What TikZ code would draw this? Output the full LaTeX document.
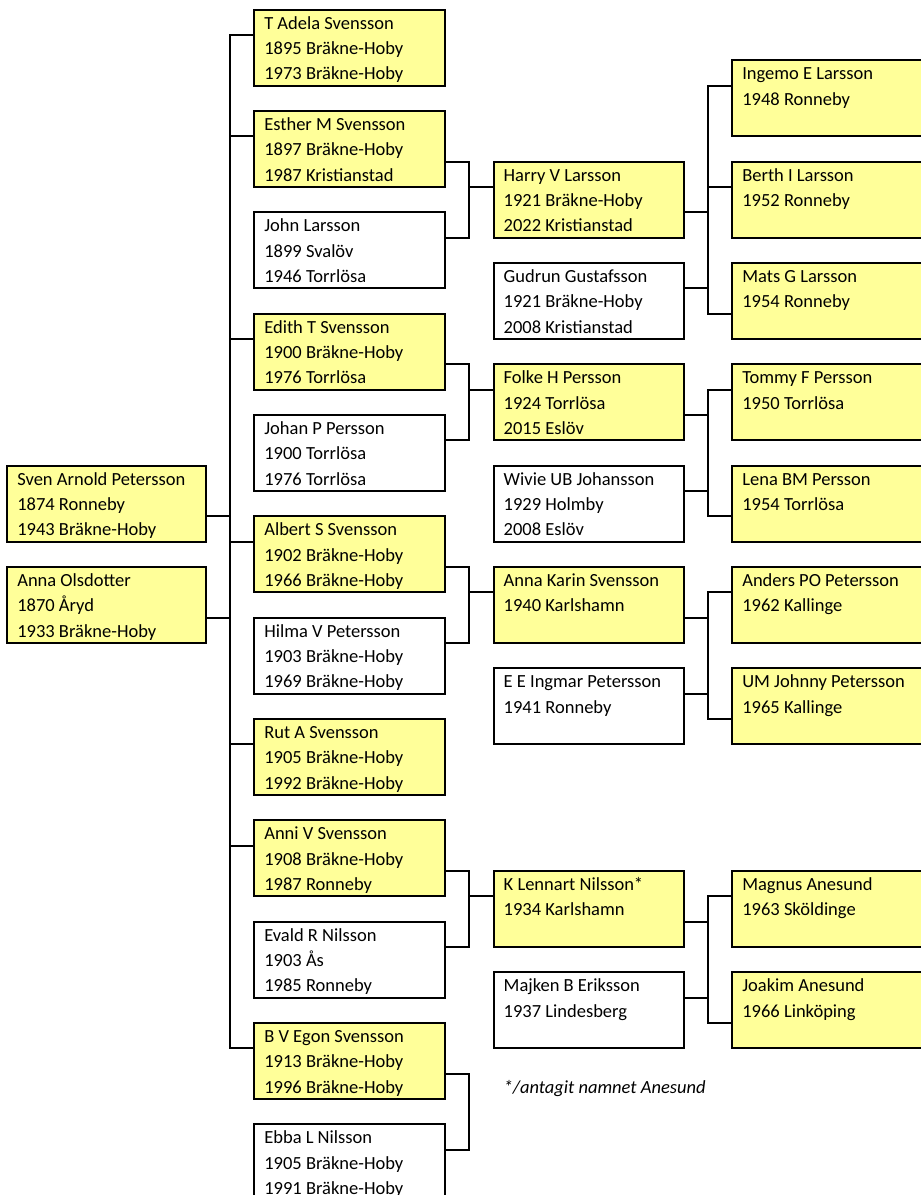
\documentclass[tikz,border=0pt]{standalone}
\usepackage{fontspec}
\setmainfont{Carlito}
\usetikzlibrary{calc}
\definecolor{pyellow}{RGB}{255,255,153}
\newcommand\pfont{\fontsize{18.5pt}{25.333pt}\selectfont}
\tikzset{
  pbox/.style={draw=black, line width=2.1pt, anchor=north west, inner sep=0pt, outer sep=0pt, minimum height=76pt},
  yel/.style={fill=pyellow},
  wht/.style={fill=white},
  ptext/.style={anchor=base west, inner sep=0pt, outer sep=0pt, font=\pfont, text=black},
  conn/.style={draw=black, line width=2pt},
}
\newcommand\person[6]{%
  \node[pbox,#5,minimum width=#4pt] (#1) at (#2,{9.7+25.3333*#3}) {};
  \node[ptext] (#1-t) at ($(#1.north west)+(10,19.5)$) {\parbox[t]{#4pt}{#6}};
  \coordinate (#1-L1) at ($(#1.north west)+(0,25.333)$);
  \coordinate (#1-L2) at ($(#1.north west)+(0,50.667)$);
  \coordinate (#1-R1) at ($(#1.north east)+(0,25.333)$);
  \coordinate (#1-R2) at ($(#1.north east)+(0,50.667)$);
}
\begin{document}
\begin{tikzpicture}[x=1pt,y=-1pt]
\useasboundingbox (0,0) rectangle (921,1195);
\clip (0,0) rectangle (921,1195);
\fill[white] (0,0) rectangle (921,1195);
% generation 1
\person{sven}{7.3}{18}{198.7}{yel}{Sven Arnold Petersson\\1874 Ronneby\\1943 Bräkne-Hoby}
\person{anna}{7.3}{22}{198.7}{yel}{Anna Olsdotter\\1870 Åryd\\1933 Bräkne-Hoby}
% generation 2
\person{adela}{254.3}{0}{191}{yel}{T Adela Svensson\\1895 Bräkne-Hoby\\1973 Bräkne-Hoby}
\person{esther}{254.3}{4}{191}{yel}{Esther M Svensson\\1897 Bräkne-Hoby\\1987 Kristianstad}
\person{john}{254.3}{8}{191}{wht}{John Larsson\\1899 Svalöv\\1946 Torrlösa}
\person{edith}{254.3}{12}{191}{yel}{Edith T Svensson\\1900 Bräkne-Hoby\\1976 Torrlösa}
\person{johan}{254.3}{16}{191}{wht}{Johan P Persson\\1900 Torrlösa\\1976 Torrlösa}
\person{albert}{254.3}{20}{191}{yel}{Albert S Svensson\\1902 Bräkne-Hoby\\1966 Bräkne-Hoby}
\person{hilma}{254.3}{24}{191}{wht}{Hilma V Petersson\\1903 Bräkne-Hoby\\1969 Bräkne-Hoby}
\person{rut}{254.3}{28}{191}{yel}{Rut A Svensson\\1905 Bräkne-Hoby\\1992 Bräkne-Hoby}
\person{anni}{254.3}{32}{191}{yel}{Anni V Svensson\\1908 Bräkne-Hoby\\1987 Ronneby}
\person{evald}{254.3}{36}{191}{wht}{Evald R Nilsson\\1903 Ås\\1985 Ronneby}
\person{egon}{254.3}{40}{191}{yel}{B V Egon Svensson\\1913 Bräkne-Hoby\\1996 Bräkne-Hoby}
\person{ebba}{254.3}{44}{191}{wht}{Ebba L Nilsson\\1905 Bräkne-Hoby\\1991 Bräkne-Hoby}
% generation 3
\person{harry}{493.7}{6}{190.3}{yel}{Harry V Larsson\\1921 Bräkne-Hoby\\2022 Kristianstad}
\person{gudrun}{493.7}{10}{190.3}{wht}{Gudrun Gustafsson\\1921 Bräkne-Hoby\\2008 Kristianstad}
\person{folke}{493.7}{14}{190.3}{yel}{Folke H Persson\\1924 Torrlösa\\2015 Eslöv}
\person{wivie}{493.7}{18}{190.3}{wht}{Wivie UB Johansson\\1929 Holmby\\2008 Eslöv}
\person{annakarin}{493.7}{22}{190.3}{yel}{Anna Karin Svensson\\1940 Karlshamn}
\person{ingmar}{493.7}{26}{190.3}{wht}{E E Ingmar Petersson\\1941 Ronneby}
\person{lennart}{493.7}{34}{190.3}{yel}{K Lennart Nilsson*\\1934 Karlshamn}
\person{majken}{493.7}{38}{190.3}{wht}{Majken B Eriksson\\1937 Lindesberg}
% generation 4
\person{ingemo}{732.3}{2}{191}{yel}{Ingemo E Larsson\\1948 Ronneby}
\person{berth}{732.3}{6}{191}{yel}{Berth I Larsson\\1952 Ronneby}
\person{mats}{732.3}{10}{191}{yel}{Mats G Larsson\\1954 Ronneby}
\person{tommy}{732.3}{14}{191}{yel}{Tommy F Persson\\1950 Torrlösa}
\person{lena}{732.3}{18}{191}{yel}{Lena BM Persson\\1954 Torrlösa}
\person{anders}{732.3}{22}{191}{yel}{Anders PO Petersson\\1962 Kallinge}
\person{johnny}{732.3}{26}{191}{yel}{UM Johnny Petersson\\1965 Kallinge}
\person{magnus}{732.3}{34}{191}{yel}{Magnus Anesund\\1963 Sköldinge}
\person{joakim}{732.3}{38}{191}{yel}{Joakim Anesund\\1966 Linköping}
% note
\node[ptext, font=\pfont\itshape] (note) at ($(lennart.north west)+(10,{8*25.333+19.5})$) {*/antagit namnet Anesund};
% trunk: parents to children
\coordinate (trunk) at ($(adela-L1)+(-24,0)$);
\draw[conn] (adela-L1) -- (trunk) |- (egon-L1);
\draw[conn] (sven-R2) -- (trunk |- sven-R2);
\draw[conn] (anna-R2) -- (trunk |- anna-R2);
\foreach \c in {esther,edith,albert,rut,anni}{
  \draw[conn] (trunk |- \c-L1) -- (\c-L1);
}
% couples generation 2 to children generation 3
\draw[conn] (esther-R2) -- ++(24,0) |- (john-R1);
\draw[conn] (harry-L1) -- ++(-24,0);
\draw[conn] (edith-R2) -- ++(24,0) |- (johan-R1);
\draw[conn] (folke-L1) -- ++(-24,0);
\draw[conn] (albert-R2) -- ++(24,0) |- (hilma-R1);
\draw[conn] (annakarin-L1) -- ++(-24,0);
\draw[conn] (anni-R2) -- ++(24,0) |- (evald-R1);
\draw[conn] (lennart-L1) -- ++(-24,0);
\draw[conn] (egon-R2) -- ++(24,0) |- (ebba-R1);
% couples generation 3 to children generation 4
\draw[conn] (harry-R2) -- ++(24,0);
\draw[conn] (gudrun-R1) -- ++(24,0);
\draw[conn] (ingemo-L1) -- ++(-24,0) |- (mats-L2);
\draw[conn] (berth-L1) -- ++(-24,0);
\draw[conn] (folke-R2) -- ++(24,0);
\draw[conn] (wivie-R1) -- ++(24,0);
\draw[conn] (tommy-L1) -- ++(-24,0) |- (lena-L2);
\draw[conn] (annakarin-R2) -- ++(24,0);
\draw[conn] (ingmar-R1) -- ++(24,0);
\draw[conn] (anders-L1) -- ++(-24,0) |- (johnny-L2);
\draw[conn] (lennart-R2) -- ++(24,0);
\draw[conn] (majken-R1) -- ++(24,0);
\draw[conn] (magnus-L1) -- ++(-24,0) |- (joakim-L2);
\end{tikzpicture}
\end{document}
